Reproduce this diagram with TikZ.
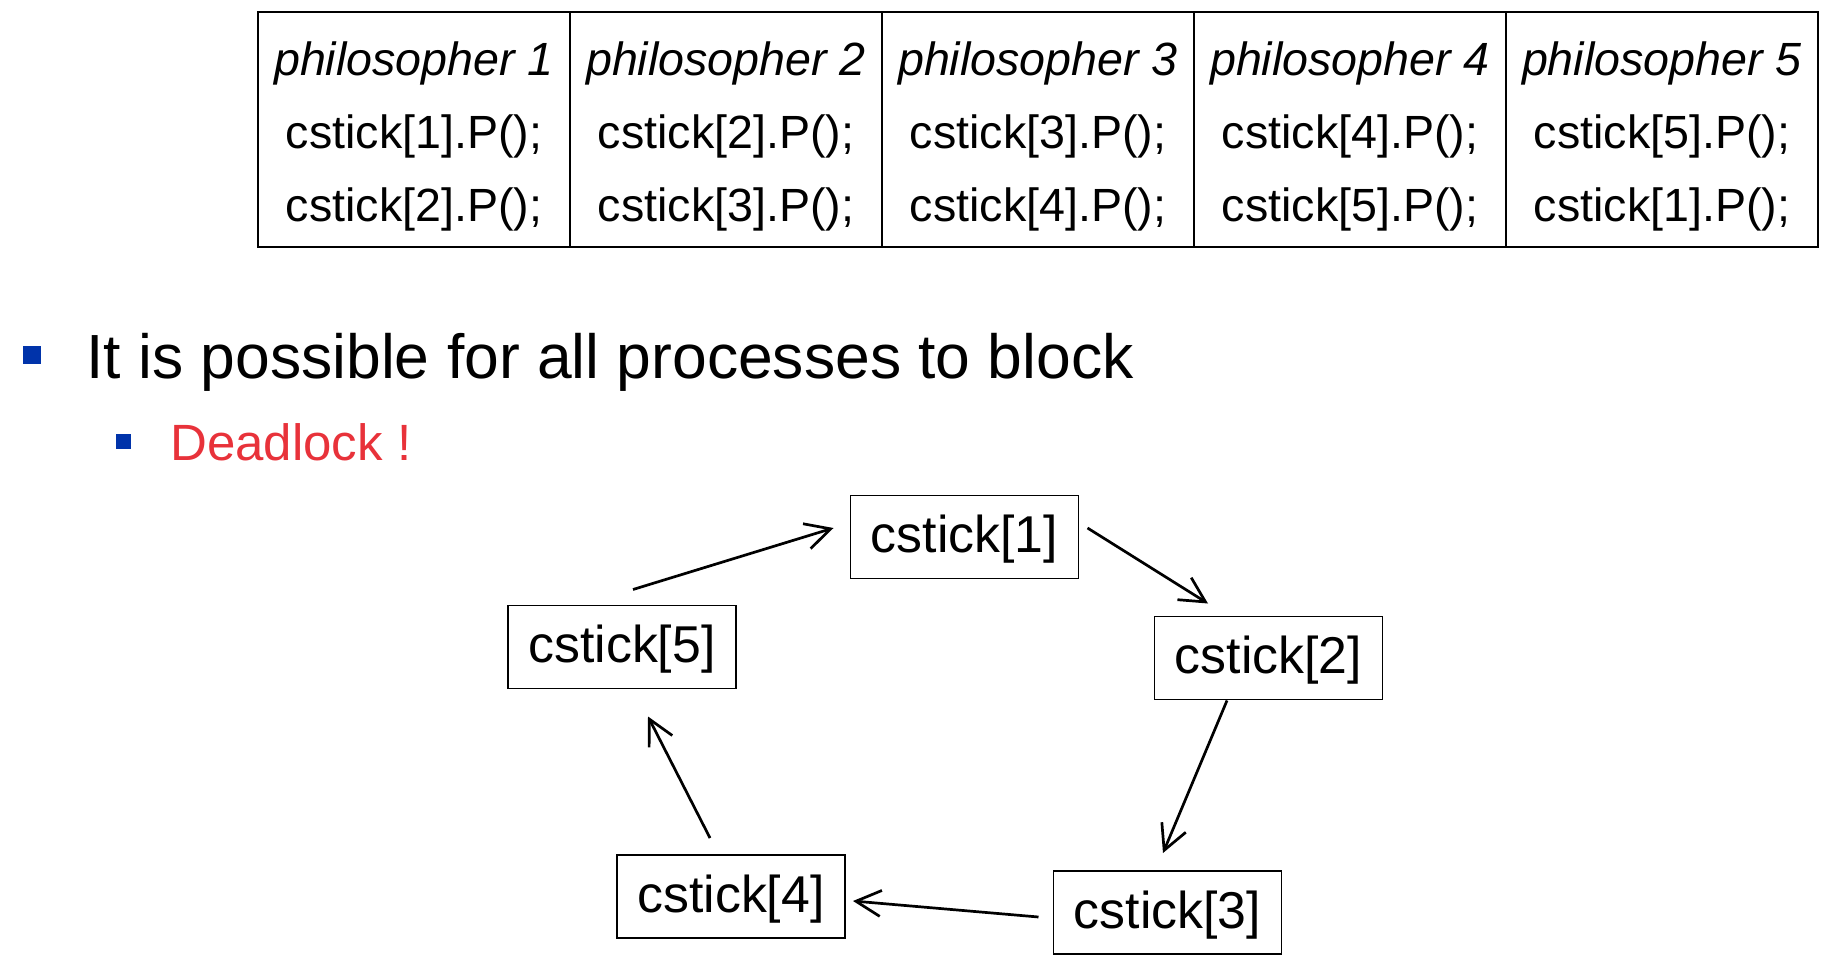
\documentclass[tikz,border=0pt]{standalone}
\usepackage{fontspec}
\setmainfont{Liberation Sans}
\usepackage{tikz}
\usetikzlibrary{calc}
\usetikzlibrary{arrows.meta,positioning}

\definecolor{bulletblue}{RGB}{0,51,170}
\definecolor{lockred}{RGB}{232,50,58}
\newcommand{\phil}[1]{\rule{0pt}{23.5pt}\textit{philosopher #1}}

\begin{document}
\begin{tikzpicture} [x=0.5pt,y=-0.5pt,>={Straight Barb[length=12.5pt,width=13pt]},node distance=0pt]
  \tikzstyle{cell}=[draw,line width=0.85pt,outer sep=0pt,inner sep=0pt,minimum width=156pt,minimum height=117.2pt,align=center,font=\fontsize{23.3}{36.5}\selectfont]
  \tikzstyle{stick}=[draw,line width=0.7pt,outer sep=0pt,inner sep=0pt,minimum width=114pt,minimum height=41.5pt,text height=20.7pt,text depth=4.9pt,font=\fontsize{25.9}{31}\selectfont]
  \tikzstyle{blob}=[fill=bulletblue,inner sep=0pt]
  \tikzstyle{arr}=[->,line width=1.35pt]

  \useasboundingbox (0,0) rectangle (1836,968);

  % the five philosophers
  \node[cell] (p1) at (414,129.5) {\phil{1}\\cstick[1].P();\\cstick[2].P();};
  \node[cell] (p2) [right=of p1] {\phil{2}\\cstick[2].P();\\cstick[3].P();};
  \node[cell] (p3) [right=of p2] {\phil{3}\\cstick[3].P();\\cstick[4].P();};
  \node[cell] (p4) [right=of p3] {\phil{4}\\cstick[4].P();\\cstick[5].P();};
  \node[cell] (p5) [right=of p4] {\phil{5}\\cstick[5].P();\\cstick[1].P();};

  \node[blob,minimum size=9pt]   (b1) at (32,355) {};
  \node[anchor=base west,inner sep=0pt,font=\fontsize{31.2}{37}\selectfont] (t1) at (86,378) {It is possible for all processes to block};
  \node[blob,minimum size=7.5pt] (b2) at (123.5,441.5) {};
  \node[anchor=base west,inner sep=0pt,text=lockred,font=\fontsize{25.5}{30}\selectfont] (t2) at (170,460) {Deadlock !};

  % the cycle
  \node[stick] (c1) at (964.5,537) {cstick[1]};
  \node[stick] (c2) at (1268.5,658) {cstick[2]};
  \node[stick] (c3) at (1167.5,912.5) {cstick[3]};
  \node[stick] (c4) at (731,896.5) {cstick[4]};
  \node[stick] (c5) at (622,647) {cstick[5]};

  \draw[arr] ($(c5.north)+(11,-16)$) -- ($(c1.west)+(-17,-9)$);
  \draw[arr] ($(c1.east)+(9,-9)$) -- ($(c2.north)+(-60.5,-13)$);
  \draw[arr] ($(c2.south)+(-41.5,1)$) -- ($(c3.north)+(-4.5,-18)$);
  \draw[arr] ($(c3.west)+(-15,4.5)$) -- ($(c4.east)+(8,4.5)$);
  \draw[arr] ($(c4.north)+(-21,-17)$) -- ($(c5.south)+(26,28)$);

\end{tikzpicture}
\end{document}
